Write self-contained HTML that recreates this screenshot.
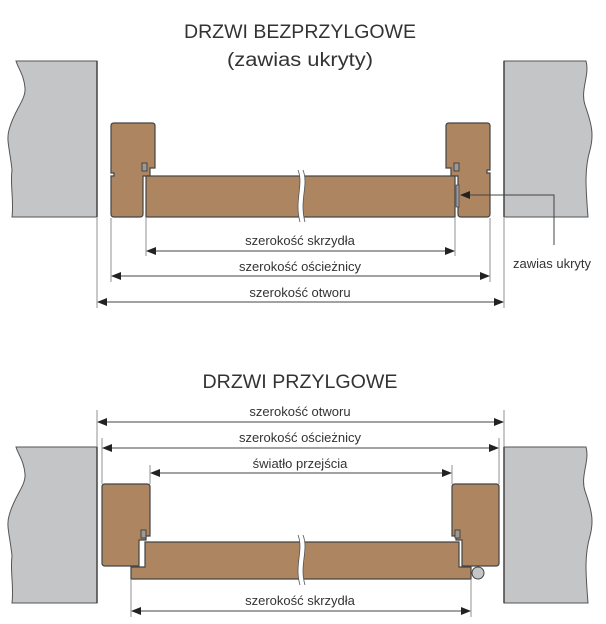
<!DOCTYPE html>
<html><head><meta charset="utf-8"><style>
html,body{margin:0;padding:0;background:#fff;}
svg{display:block;}
text{font-family:"Liberation Sans",sans-serif;fill:#333;}
</style></head><body>
<svg width="606" height="624" viewBox="0 0 606 624" xmlns="http://www.w3.org/2000/svg">
<defs>
<marker id="a" markerWidth="10" markerHeight="8" refX="9" refY="4" orient="auto-start-reverse" markerUnits="userSpaceOnUse">
<path d="M0,0 L10,4 L0,8 Z" fill="#222"/></marker>
</defs>
<!-- Titles -->
<text x="300" y="38" font-size="19" text-anchor="middle" textLength="232" lengthAdjust="spacingAndGlyphs">DRZWI BEZPRZYLGOWE</text>
<text x="300" y="66" font-size="19" text-anchor="middle" textLength="146" lengthAdjust="spacingAndGlyphs">(zawias ukryty)</text>
<text x="300" y="388" font-size="19" text-anchor="middle" textLength="195" lengthAdjust="spacingAndGlyphs">DRZWI PRZYLGOWE</text>

<!-- TOP walls -->
<path d="M16,61 L97,61 L97,217 L12,217 C14,200 10,185 12,170 C10,150 6,140 9,130 C14,110 26,100 25,88 C24,75 18,68 16,61 Z" fill="#c4c5c7" stroke="#555" stroke-width="1"/>
<path d="M504,61 L586,61 C590,75 580,90 585,105 C592,125 594,135 590,150 C584,170 586,190 588,217 L504,217 Z" fill="#c4c5c7" stroke="#555" stroke-width="1"/>
<line x1="504" y1="61" x2="504" y2="217" stroke="#444" stroke-width="1.5"/>
<line x1="97" y1="61" x2="97" y2="217" stroke="#444" stroke-width="1.5"/>

<!-- TOP frames -->
<path d="M114,123 L152,123 Q155,123 155,126 L155,168 L150,168 L150,176 L143,176 L143,214 Q143,217 140,217 L114,217 Q111,217 111,214 L111,176 L114,176 L114,173 L111,173 L111,126 Q111,123 114,123 Z" fill="#ad8661" stroke="#444" stroke-width="1.2"/>
<path d="M449,123 L487,123 Q490,123 490,126 L490,170 L487,170 L487,173 L490,173 L490,214 Q490,217 487,217 L461,217 Q458,217 458,214 L458,176 L451,176 L451,168 L446,168 L446,126 Q446,123 449,123 Z" fill="#ad8661" stroke="#444" stroke-width="1.2"/>
<rect x="142" y="163" width="5" height="8" fill="#999" stroke="#333" stroke-width="0.8"/>
<rect x="454" y="163" width="5" height="8" fill="#999" stroke="#333" stroke-width="0.8"/>
<rect x="456" y="185" width="3" height="22" fill="#999" stroke="#333" stroke-width="0.6"/>
<!-- TOP leaf -->
<rect x="146" y="176" width="309" height="41" fill="#ad8661" stroke="#444" stroke-width="1.2"/>
<path d="M298,170 C304,185 294,200 300,222 L305,222 C299,200 309,185 303,170 Z" fill="#fff"/>
<path d="M298,170 C304,185 294,200 300,222 M303,170 C309,185 299,200 305,222" fill="none" stroke="#555" stroke-width="0.8"/>

<!-- TOP dimension lines -->
<g stroke="#777" stroke-width="0.8">
<line x1="146" y1="218" x2="146" y2="256"/><line x1="455" y1="218" x2="455" y2="256"/>
<line x1="111" y1="218" x2="111" y2="282"/><line x1="490" y1="218" x2="490" y2="282"/>
<line x1="97" y1="218" x2="97" y2="308"/><line x1="504" y1="218" x2="504" y2="308"/>
</g>
<g stroke="#444" stroke-width="1">
<line x1="147" y1="251" x2="454" y2="251" marker-start="url(#a)" marker-end="url(#a)"/>
<line x1="112" y1="276" x2="489" y2="276" marker-start="url(#a)" marker-end="url(#a)"/>
<line x1="98" y1="302" x2="503" y2="302" marker-start="url(#a)" marker-end="url(#a)"/>
<polyline points="554,245 554,195 461,195" fill="none" marker-end="url(#a)"/>
</g>
<text x="300" y="245" font-size="13" text-anchor="middle">szerokość skrzydła</text>
<text x="300" y="271" font-size="13" text-anchor="middle">szerokość ościeżnicy</text>
<text x="300" y="297" font-size="13" text-anchor="middle">szerokość otworu</text>
<text x="552" y="268" font-size="13" text-anchor="middle">zawias ukryty</text>

<!-- BOTTOM walls -->
<path d="M16,447 L97,447 L97,603 L12,603 C14,586 10,571 12,556 C10,536 6,526 9,516 C14,496 26,486 25,474 C24,461 18,454 16,447 Z" fill="#c4c5c7" stroke="#555" stroke-width="1"/>
<path d="M504,447 L586,447 C590,461 580,476 585,491 C592,511 594,521 590,536 C584,556 586,576 588,603 L504,603 Z" fill="#c4c5c7" stroke="#555" stroke-width="1"/>
<line x1="504" y1="447" x2="504" y2="603" stroke="#444" stroke-width="1.5"/>
<line x1="97" y1="447" x2="97" y2="603" stroke="#444" stroke-width="1.5"/>

<!-- BOTTOM frames -->
<path d="M105,484 L147,484 Q150,484 150,487 L150,536 L146,536 L146,540 L139,540 L139,566 L105,566 Q102,566 102,563 L102,487 Q102,484 105,484 Z" fill="#ad8661" stroke="#444" stroke-width="1.2"/>
<path d="M455,484 L496,484 Q499,484 499,487 L499,563 Q499,566 496,566 L462,566 L462,540 L456,540 L456,536 L452,536 L452,487 Q452,484 455,484 Z" fill="#ad8661" stroke="#444" stroke-width="1.2"/>
<rect x="141" y="530" width="5" height="8" fill="#999" stroke="#333" stroke-width="0.8"/>
<rect x="455" y="530" width="5" height="8" fill="#999" stroke="#333" stroke-width="0.8"/>
<!-- BOTTOM leaf -->
<path d="M145,542 L459,542 L459,567 L471,567 L471,579 L131,579 L131,567 L145,567 Z" fill="#ad8661" stroke="#444" stroke-width="1.2"/>
<path d="M298,535 C304,550 294,565 300,585 L305,585 C299,565 309,550 303,535 Z" fill="#fff"/>
<path d="M298,535 C304,550 294,565 300,585 M303,535 C309,550 299,565 305,585" fill="none" stroke="#555" stroke-width="0.8"/>
<circle cx="478" cy="573" r="6" fill="#c4c5c7" stroke="#444" stroke-width="1"/>

<!-- BOTTOM dimension lines -->
<g stroke="#777" stroke-width="0.8">
<line x1="97" y1="410" x2="97" y2="447"/><line x1="504" y1="410" x2="504" y2="447"/>
<line x1="102" y1="438" x2="102" y2="484"/><line x1="499" y1="438" x2="499" y2="484"/>
<line x1="150" y1="465" x2="150" y2="484"/><line x1="452" y1="465" x2="452" y2="484"/>
<line x1="131" y1="580" x2="131" y2="617"/><line x1="471" y1="580" x2="471" y2="617"/>
</g>
<g stroke="#444" stroke-width="1">
<line x1="98" y1="422" x2="503" y2="422" marker-start="url(#a)" marker-end="url(#a)"/>
<line x1="103" y1="448" x2="498" y2="448" marker-start="url(#a)" marker-end="url(#a)"/>
<line x1="151" y1="473" x2="451" y2="473" marker-start="url(#a)" marker-end="url(#a)"/>
<line x1="132" y1="611" x2="470" y2="611" marker-start="url(#a)" marker-end="url(#a)"/>
</g>
<text x="300" y="416" font-size="13" text-anchor="middle">szerokość otworu</text>
<text x="300" y="442" font-size="13" text-anchor="middle">szerokość ościeżnicy</text>
<text x="300" y="468" font-size="13" text-anchor="middle">światło przejścia</text>
<text x="300" y="605" font-size="13" text-anchor="middle">szerokość skrzydła</text>
</svg>
</body></html>
